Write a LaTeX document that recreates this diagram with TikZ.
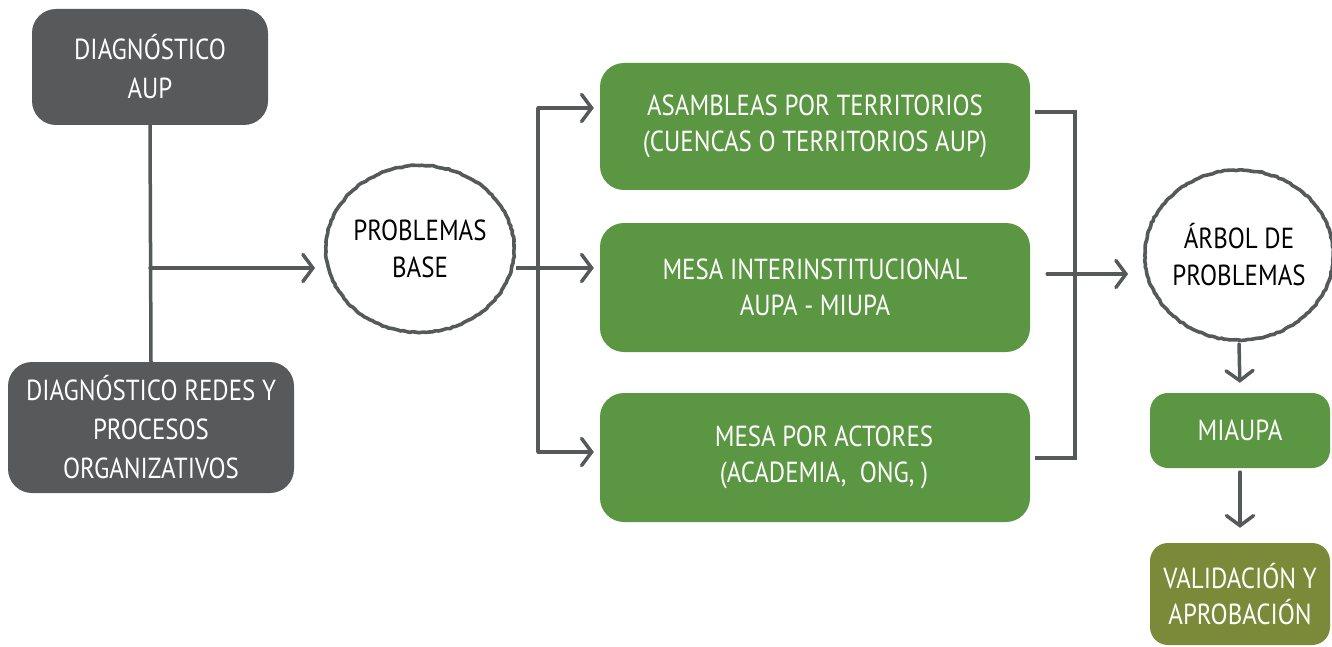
\documentclass[tikz,border=0pt]{standalone}
\usepackage{fontspec}
\setmainfont{PT Sans}[FakeStretch=0.86]
\usepackage{xcolor}
\usetikzlibrary{arrows.meta,positioning,shapes.geometric,decorations.pathmorphing}
\definecolor{darkbox}{HTML}{57595A}
\definecolor{greenbox}{HTML}{5B9642}
\definecolor{olivebox}{HTML}{7B8A38}
\definecolor{linegray}{HTML}{56595A}
\tikzset{block/.style={fill=greenbox, rectangle, rounded corners=24pt, text=white,
		align=center, inner sep=0pt, font=\fontsize{29}{36}\selectfont},
	darkblock/.style={block, fill=darkbox, font=\fontsize{29}{39}\selectfont},
	sketchcircle/.style={ellipse, draw=linegray, line width=3.6pt, align=center,
		inner sep=0pt, font=\fontsize{29}{37}\selectfont,
		decorate, decoration={random steps, segment length=3pt, amplitude=0.6pt}},
	arrow/.style={draw=linegray, line width=3.5pt, line cap=round,
		-{Straight Barb[length=10pt,width=27pt,line cap=round]}},
	line/.style={draw=linegray, line width=3.5pt, -}}

\begin{document}
\begin{tikzpicture}[x=1pt,y=-1pt]
		\useasboundingbox (0,0) rectangle (1332,647);
		% left column
		\node [darkblock, minimum width=236pt, minimum height=116pt] (diagaup) at (150,67) {DIAGNÓSTICO\\AUP};
		\node [darkblock, minimum width=286pt, minimum height=131pt] (diagredes) at (151,427.5) {DIAGNÓSTICO REDES Y\\PROCESOS\\ORGANIZATIVOS};
		\node [sketchcircle, minimum width=184pt, minimum height=167pt] (probbase) at (420,249) {PROBLEMAS\\BASE};
		
		% middle column
		\node [block, minimum width=430pt, minimum height=127pt] (asambleas) at (815,126.5) {ASAMBLEAS POR TERRITORIOS\\(CUENCAS O TERRITORIOS AUP)};
		\node [block, minimum width=430pt, minimum height=129pt] (mesainter) at (815,287.5) {MESA INTERINSTITUCIONAL\\AUPA - MIUPA};
		\node [block, minimum width=430pt, minimum height=129pt] (mesaact) at (815,457.5) {\hspace*{18pt}MESA POR ACTORES\\\hspace*{18pt}(ACADEMIA,\ \ ONG, )};
		
		% right column
		\node [sketchcircle, minimum width=182pt, minimum height=170pt] (arbol) at (1239,255) {ÁRBOL DE\\PROBLEMAS};
		\node [block, minimum width=180pt, minimum height=75pt, rounded corners=18pt] (miaupa) at (1240,430.5) {MIAUPA};
		\node [block, fill=olivebox, minimum width=180pt, minimum height=102pt, rounded corners=18pt] (valid) at (1240,594) {VALIDACIÓN Y\\APROBACIÓN};
		
		\coordinate (join) at (150,268);
		\coordinate (splittop) at (538,108);
		\coordinate (splitmid) at (538,268);
		\coordinate (splitbot) at (538,452);
		\coordinate (mergetop) at (1075,112);
		\coordinate (mergemid) at (1075,274);
		\coordinate (mergebot) at (1075,458);
		
		\draw [line] (diagaup.south) -- (diagredes.north);
		\draw [arrow, shorten >=9pt] (join) -- (probbase.west |- join);
		
		\draw [line] (probbase.east |- splitmid) -- (splitmid);
		\draw [line] (splittop) -- (splitbot);
		\draw [arrow, shorten >=6pt] (splittop) -- (asambleas.west |- splittop);
		\draw [arrow, shorten >=6pt] (splitmid) -- (mesainter.west |- splitmid);
		\draw [arrow, shorten >=6pt] (splitbot) -- (mesaact.west |- splitbot);
		
		\draw [line, shorten <=5pt] (asambleas.east |- mergetop) -- (mergetop) -- (mergebot) -- ([xshift=5pt]mesaact.east |- mergebot);
		\draw [arrow, shorten <=17pt, shorten >=15pt] (mesainter.east |- mergemid) -- (arbol.west |- mergemid);
		
		\draw [arrow, shorten <=2pt, shorten >=10pt] (arbol.south) -- (miaupa.north);
		\draw [arrow, shorten <=4pt, shorten >=15pt] (miaupa.south) -- (valid.north);
	\end{tikzpicture}
\end{document}
